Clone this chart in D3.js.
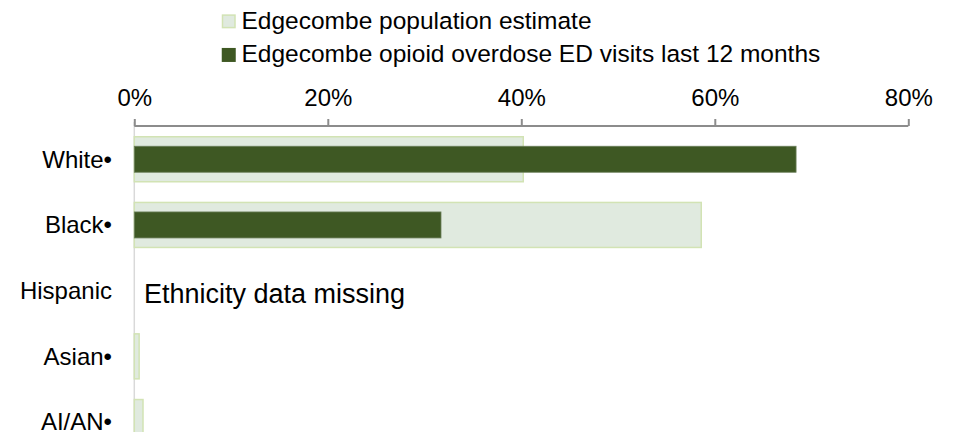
<!DOCTYPE html>
<html>
<head>
<meta charset="utf-8">
<script src="https://cdn.jsdelivr.net/npm/d3@7"></script>
<style>
  body { margin: 0; background: #fff; }
  svg { display: block; font-family: "Liberation Sans", Arial, sans-serif; }
</style>
</head>
<body>
<div id="chart"></div>
<script>
const categories = ["White", "Black", "Hispanic", "Asian", "AI/AN"];
const categoryLabels = ["White•", "Black•", "Hispanic", "Asian•", "AI/AN•"];
const populationEstimate = [40.2, 58.6, null, 0.5, 0.9];
const overdoseVisits = [68.4, 31.7, null, 0, 0];
const tickValues = [0, 20, 40, 60, 80];
const seriesNames = ["Edgecombe population estimate", "Edgecombe opioid overdose ED visits last 12 months"];

const width = 953, height = 432;
const svg = d3.select("#chart").append("svg").attr("width", width).attr("height", height);

const x = d3.scaleLinear().domain([0, 80]).range([134.3, 908.3]);
const y = d3.scaleBand().domain(categories).range([126.4, 126.4 + 65.7 * categories.length]);
const center = (c) => y(c) + y.bandwidth() / 2;

// vertical category axis line
svg.append("line").attr("x1", x(0)).attr("x2", x(0)).attr("y1", 122).attr("y2", height)
  .attr("stroke", "#d9d9d9").attr("stroke-width", 1.5);

// population bars (wide, light)
const popData = categories.map((c, i) => ({ c, v: populationEstimate[i] })).filter((d) => d.v != null);
svg.append("g").selectAll("rect").data(popData).join("rect")
  .attr("x", x(0)).attr("y", (d) => center(d.c) - 22.5)
  .attr("width", (d) => x(d.v) - x(0)).attr("height", 45)
  .attr("fill", "#e0eadf").attr("stroke", "#d2e3b4").attr("stroke-width", 1.5);

// overdose bars (narrow, dark)
const odData = categories.map((c, i) => ({ c, v: overdoseVisits[i] })).filter((d) => d.v);
svg.append("g").selectAll("rect").data(odData).join("rect")
  .attr("x", x(0)).attr("y", (d) => center(d.c) - 13)
  .attr("width", (d) => x(d.v) - x(0)).attr("height", 26)
  .attr("fill", "#3e5823").attr("stroke", "#6b7f5a").attr("stroke-width", 0.8);

// top axis
const axis = svg.append("g").attr("transform", "translate(0,126)")
  .call(d3.axisTop(x).tickValues(tickValues).tickFormat((d) => d + "%").tickSize(7).tickPadding(13));
axis.select(".domain").attr("stroke", "#8c8c8c").attr("stroke-width", 2).attr("d", `M${x(0)},0V0H${x(80)}V0`);
axis.selectAll(".tick line").attr("stroke", "#8c8c8c").attr("stroke-width", 2);
axis.selectAll(".tick text").attr("fill", "#000").attr("font-size", 24).attr("font-family", "Liberation Sans, Arial, sans-serif");

// category labels
svg.append("g").selectAll("text").data(categories).join("text")
  .attr("x", 112).attr("y", (d) => center(d)).attr("dy", "0.35em")
  .attr("text-anchor", "end").attr("font-size", 24).attr("fill", "#000")
  .text((d, i) => categoryLabels[i]);

svg.append("text").attr("x", 144).attr("y", center("Hispanic") + 3.2).attr("dy", "0.35em")
  .attr("font-size", 27).attr("fill", "#000").text("Ethnicity data missing");

// legend
const legendColors = [{ fill: "#e0eadf", stroke: "#d2e3b4" }, { fill: "#3e5823", stroke: "#3e5823" }];
const legend = svg.append("g").selectAll("g").data(seriesNames).join("g")
  .attr("transform", (d, i) => `translate(222,${20.1 + i * 33.6})`);
legend.append("rect").attr("x", 0.5).attr("y", -5).attr("width", 12.5).attr("height", 12.5)
  .attr("fill", (d, i) => legendColors[i].fill).attr("stroke", (d, i) => legendColors[i].stroke).attr("stroke-width", 1.5);
legend.append("text").attr("x", 19.5).attr("dy", "0.35em").attr("font-size", 24.5).attr("fill", "#000").text((d) => d);
</script>
</body>
</html>
